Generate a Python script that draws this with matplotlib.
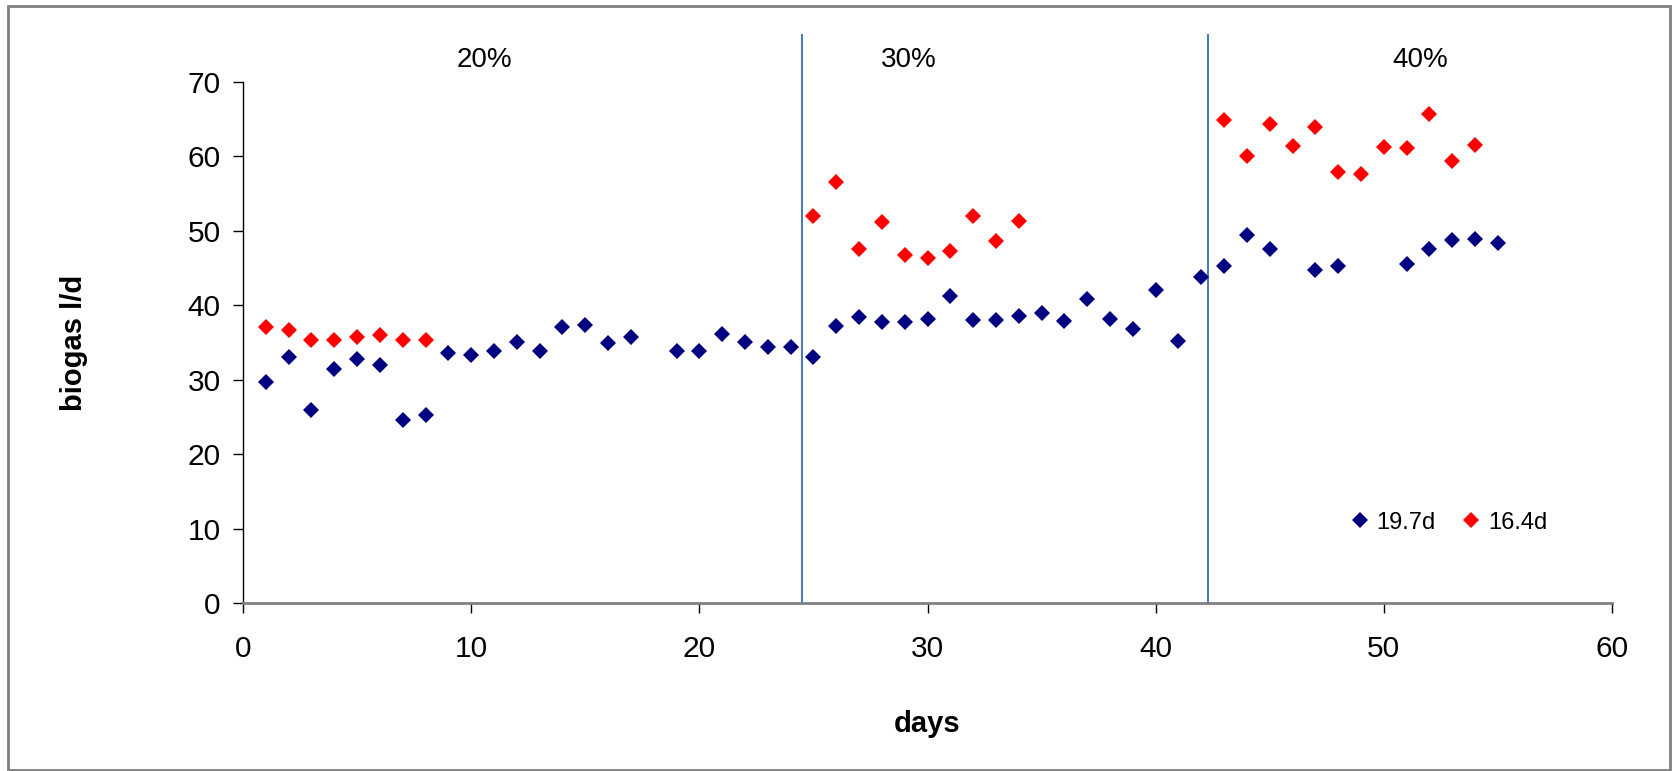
import numpy as np
import matplotlib.pyplot as plt
from matplotlib.patches import Rectangle

plt.rcParams['font.family'] = ['Liberation Sans', 'DejaVu Sans']

# daily biogas production, retention time 19.7 days
days_197 = [1, 2, 3, 4, 5, 6, 7, 8, 9, 10, 11, 12, 13, 14, 15, 16, 17,
            19, 20, 21, 22, 23, 24, 25, 26, 27, 28, 29, 30, 31, 32, 33, 34,
            35, 36, 37, 38, 39, 40, 41, 42, 43, 44, 45, 47, 48,
            51, 52, 53, 54, 55]
gas_197 = [29.7, 33.1, 25.9, 31.4, 32.8, 32.0, 24.6, 25.3, 33.6, 33.3, 33.9, 35.1, 33.9, 37.1, 37.4, 34.9, 35.7,
           33.8, 33.8, 36.2, 35.1, 34.4, 34.4, 33.1, 37.2, 38.4, 37.8, 37.7, 38.1, 41.2, 38.0, 38.0, 38.6,
           38.9, 37.9, 40.9, 38.2, 36.8, 42.0, 35.2, 43.8, 45.3, 49.5, 47.6, 44.7, 45.3,
           45.5, 47.5, 48.8, 48.9, 48.4]

# daily biogas production, retention time 16.4 days
days_164 = [1, 2, 3, 4, 5, 6, 7, 8,
            25, 26, 27, 28, 29, 30, 31, 32, 33, 34,
            43, 44, 45, 46, 47, 48, 49, 50, 51, 52, 53, 54]
gas_164 = [37.1, 36.7, 35.3, 35.3, 35.7, 36.0, 35.3, 35.3,
           52.0, 56.5, 47.5, 51.2, 46.8, 46.4, 47.3, 52.0, 48.7, 51.3,
           64.9, 60.0, 64.4, 61.4, 64.0, 57.9, 57.6, 61.3, 61.1, 65.7, 59.4, 61.6]

# loading phases
phase_bounds = [24.5, 42.3]
phase_labels = ['20%', '30%', '40%']
phase_label_x = [10.6, 29.2, 51.6]

fig = plt.figure(figsize=(16.73, 7.71), dpi=100)
ax = fig.add_axes([0.14525, 0.2179, 0.81829, 0.67574])

ax.plot(days_197, gas_197, ls='none', marker='D', ms=8.3, mew=0, color='#000080', label='19.7d')
ax.plot(days_164, gas_164, ls='none', marker='D', ms=8.3, mew=0, color='#FF0000', label='16.4d')

for xb in phase_bounds:
    ax.plot([xb, xb], [0, 76.3], color='#4A7EBB', lw=1.5, clip_on=False, zorder=1)
for xl, lab in zip(phase_label_x, phase_labels):
    ax.text(xl, 73, lab, ha='center', va='center', fontsize=20)

ax.set_xlim(0, 60)
ax.set_ylim(0, 70)
ax.set_xticks(np.arange(0, 61, 10))
ax.set_yticks(np.arange(0, 71, 10))
ax.tick_params(labelsize=21.5, length=7, width=1, direction='out')
ax.tick_params(axis='x', pad=16)
ax.tick_params(axis='y', pad=9)

for s in ['top', 'right']:
    ax.spines[s].set_visible(False)
ax.spines['left'].set_color('black')
ax.spines['left'].set_linewidth(1)
ax.spines['bottom'].set_color('#808080')
ax.spines['bottom'].set_linewidth(2)

ax.set_xlabel('days', fontsize=21, fontweight='bold', labelpad=34)
ax.set_ylabel('biogas l/d', fontsize=21, fontweight='bold', labelpad=72)

ax.legend(ncol=2, frameon=False, loc='center', bbox_to_anchor=(0.866, 0.322),
          bbox_transform=fig.transFigure, fontsize=17, handlelength=0.8,
          handletextpad=0.3, columnspacing=1.1, numpoints=1)

# chart border
fig.patches.append(Rectangle((8 / 1673, 1 / 771), 1662 / 1673, 764 / 771,
                             transform=fig.transFigure, fill=False,
                             edgecolor='#808080', lw=2))

fig.savefig('out.png', dpi=100)
